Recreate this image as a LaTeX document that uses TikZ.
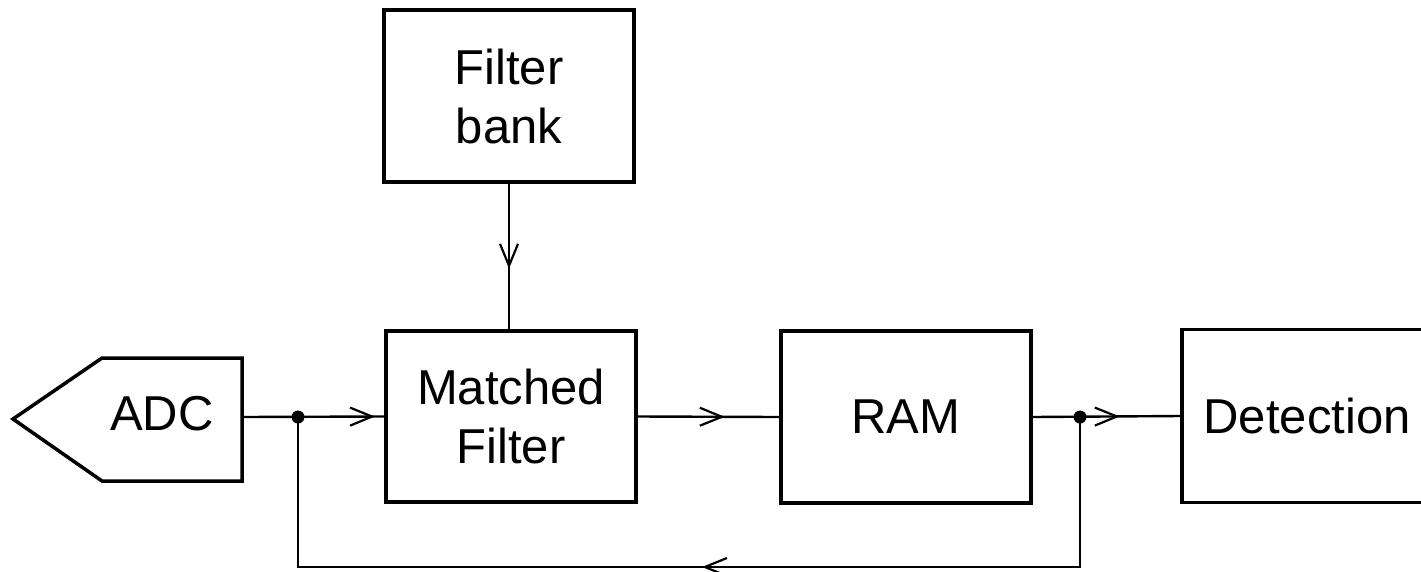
\documentclass[tikz,border=0pt]{standalone}
\usepackage{fontspec}
\setmainfont{Liberation Sans}
\usetikzlibrary{arrows.meta,decorations.markings}
\tikzset{
  blk/.style={draw, line width=3.5pt, minimum width=250pt, minimum height=172pt, inner sep=0pt, align=center, font=\fontsize{49pt}{59pt}\selectfont},
  conn/.style={line width=2.4pt},
  midarrow/.style={postaction={decorate,decoration={markings,mark=at position #1 with {\arrow{Straight Barb[length=22pt,width=18pt,line width=2.2pt]}}}}},
  dot/.style={circle, fill=black, inner sep=0pt, minimum size=13pt}
}
\begin{document}
\begin{tikzpicture}[x=1pt,y=-1pt]
\useasboundingbox (0,0) rectangle (1421,571);
% ADC pentagon
\draw[line width=3.5pt, line join=miter] (13,419) -- (102,358) -- (242,358) -- (242,481) -- (102,481) -- cycle;
\node[font=\fontsize{49pt}{59pt}\selectfont] (adc) at (162,414) {ADC};
\coordinate (adcout) at (242,417);
\node[blk] (fb) at (509,96) {Filter\\bank};
\node[blk, minimum height=171pt] (mf) at (511,416.5) {Matched\\Filter};
\node[blk] (ram) at (906,417) {RAM};
\node[blk, minimum height=173pt] (det) at (1307,416) {Detection};
\node[dot] (d1) at (298,417) {};
\node[dot] (d2) at (1080,417) {};
\coordinate (c1) at (1080,567);
\coordinate (c2) at (298,567);
% connectors
\draw[conn, midarrow=133pt] (adcout) -- (mf.west);
\draw[conn, midarrow=87pt] (mf.east) -- (ram.west);
\draw[conn, midarrow=87pt] (ram.east) -- (det.west);
\draw[conn, midarrow=85pt] (fb.south) -- (fb.south |- mf.north);
\draw[conn, midarrow=528pt] (d2.center) -- (c1) -- (c2) -- (d1.center);
\end{tikzpicture}
\end{document}
